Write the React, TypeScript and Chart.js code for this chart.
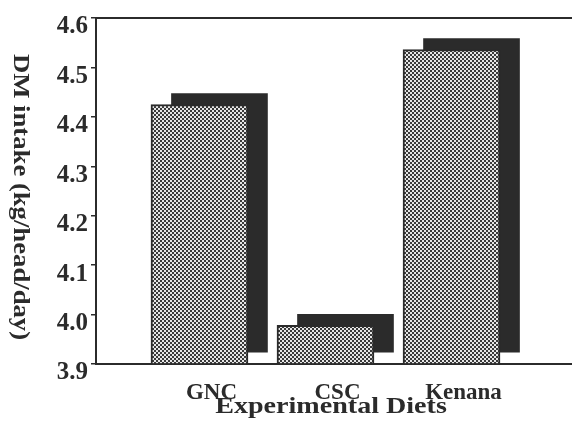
import { useEffect, useRef } from 'react';
import { Chart, registerables } from 'chart.js';
Chart.register(...registerables);

const categories = ['GNC', 'CSC', 'Kenana'];
const positions = [1, 2, 3];
const dmIntake = [4.425, 3.978, 4.536];
const yMin = 3.9;
const yMax = 4.6;
const yTitle = 'DM intake (kg/head/day)';
const xTitle = 'Experimental Diets';

const FONT = '"Liberation Serif", "Times New Roman", serif';
const INK = '#2b2b2b';

function makePattern(ctx: CanvasRenderingContext2D) {
  const c = document.createElement('canvas');
  c.width = 4;
  c.height = 4;
  const p = c.getContext('2d')!;
  p.fillStyle = '#e6e6e6';
  p.fillRect(0, 0, 4, 4);
  p.fillStyle = '#3a3a3a';
  p.fillRect(0, 0, 2, 2);
  p.fillRect(2, 2, 2, 2);
  return ctx.createPattern(c, 'repeat');
}

const shadowShift = {
  id: 'shadowShift',
  beforeDatasetDraw(chart: any, args: any) {
    if (args.index === 1) {
      chart.ctx.save();
      chart.ctx.translate(20, -11);
    }
  },
  afterDatasetDraw(chart: any, args: any) {
    if (args.index === 1) chart.ctx.restore();
  },
};

const frameAndTitles = {
  id: 'frameAndTitles',
  afterDraw(chart: any) {
    const { ctx, chartArea } = chart;
    ctx.save();
    ctx.strokeStyle = INK;
    ctx.lineWidth = 2;
    ctx.beginPath();
    ctx.moveTo(chartArea.left - 1, chartArea.top);
    ctx.lineTo(chart.width, chartArea.top);
    ctx.stroke();

    ctx.fillStyle = INK;
    ctx.font = `bold 24px ${FONT}`;
    ctx.textAlign = 'center';
    ctx.textBaseline = 'middle';

    ctx.save();
    ctx.translate(331, 407);
    ctx.scale(1.17, 1);
    ctx.fillText(xTitle, 0, 0);
    ctx.restore();

    ctx.save();
    ctx.font = `bold 23px ${FONT}`;
    ctx.translate(20, 197);
    ctx.rotate(Math.PI / 2);
    ctx.scale(1.16, 1);
    ctx.fillText(yTitle, 0, 0);
    ctx.restore();

    ctx.restore();
  },
};

export default function App() {
  const ref = useRef<HTMLCanvasElement>(null);
  useEffect(() => {
    document.body.style.margin = '0';
    document.body.style.background = '#ffffff';
    const canvas = ref.current!;
    const ctx = canvas.getContext('2d')!;
    const pattern = makePattern(ctx);
    const frontData = positions.map((x, i) => ({ x, y: dmIntake[i] }));
    const shadowData = positions.map((x, i) => ({ x, y: dmIntake[i] }));
    const chart = new Chart(canvas, {
      type: 'bar',
      data: {
        datasets: [
          {
            data: frontData,
            backgroundColor: pattern as any,
            borderColor: INK,
            borderWidth: { top: 2, left: 2, right: 2, bottom: 0 } as any,
            borderSkipped: false,
            base: yMin,
            grouped: false,
            barThickness: 97,
            clip: false as any,
          },
          {
            data: shadowData,
            backgroundColor: INK,
            borderWidth: 0,
            base: yMin,
            grouped: false,
            barThickness: 96,
            clip: false as any,
          },
        ],
      },
      options: {
        responsive: false,
        animation: false,
        layout: { padding: { top: 12, right: 0, left: 0, bottom: 0 } },
        plugins: { legend: { display: false }, tooltip: { enabled: false } },
        scales: {
          x: {
            type: 'linear',
            offset: false,
            min: 0.179,
            max: 3.956,
            afterBuildTicks: (s: any) => {
              s.ticks = positions.map((v) => ({ value: v }));
            },
            afterFit: (s: any) => {
              s.height = 60;
            },
            grid: { display: false },
            border: { display: true, color: INK, width: 2 },
            ticks: {
              color: INK,
              font: { family: FONT, size: 23, weight: 'bold' },
              padding: 7,
              labelOffset: 12,
              maxRotation: 0,
              autoSkip: false,
              callback: (v: any) => categories[positions.indexOf(Number(v))] ?? '',
            },
          },
          y: {
            min: yMin,
            max: yMax,
            afterFit: (s: any) => {
              s.width = 96;
            },
            grid: {
              display: true,
              drawOnChartArea: false,
              drawTicks: true,
              tickLength: 5,
              color: INK,
              lineWidth: 1.5,
            },
            border: { display: true, color: INK, width: 2 },
            ticks: {
              stepSize: 0.1,
              color: INK,
              padding: 3,
              labelOffset: 9,
              font: { family: FONT, size: 25, weight: 'bold' },
              callback: (v: any) => Number(v).toFixed(1),
            },
          },
        },
      },
      plugins: [shadowShift, frameAndTitles],
    } as any);
    return () => chart.destroy();
  }, []);
  return <canvas ref={ref} width={572} height={424} style={{ display: 'block' }} />;
}
